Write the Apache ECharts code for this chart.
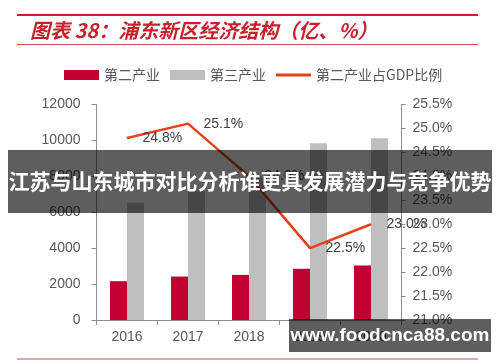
<!DOCTYPE html>
<html><head><meta charset="utf-8">
<script src="https://cdn.jsdelivr.net/npm/echarts@6/dist/echarts.min.js"></script>
<style>html,body{margin:0;padding:0;background:#fff}#c{width:500px;height:362px}</style>
</head><body><div id="c"></div>
<script>
var categories = ['2016', '2017', '2018', '2019', '2020'];
var secondary = [2160, 2420, 2510, 2860, 3030];
var tertiary = [6530, 7200, 7930, 9840, 10120];
var secondaryShare = [24.8, 25.1, 24.0, 22.5, 23.0];
var leftTicks = {min: 0, max: 12000, interval: 2000};
var rightTicks = {min: 21, max: 25.5, interval: 0.5};
var legendNames = ['第二产业', '第三产业', '第二产业占GDP比例'];

var chart = echarts.init(document.getElementById('c'));
var axisColor = '#8c8c8c';
var labelColor = '#595959';
chart.setOption({
  animation: false,
  textStyle: {fontFamily: 'Liberation Sans, Arial, sans-serif'},
  grid: {left: 96.5, right: 98.5, top: 104.5, bottom: 42},
  legend: {
    left: 59, top: 63, itemWidth: 35, itemHeight: 10, itemGap: 10,
    textStyle: {fontSize: 14, color: labelColor, fontFamily: 'Noto Sans CJK SC'},
    data: [
      {name: legendNames[0], icon: 'rect'},
      {name: legendNames[1], icon: 'rect'},
      {name: legendNames[2], icon: 'path://M0,0 L35,0 L35,3 L0,3 Z'}
    ]
  },
  xAxis: {
    type: 'category', data: categories,
    axisLine: {lineStyle: {color: axisColor, width: 1}},
    axisTick: {show: true, length: 5, lineStyle: {color: axisColor}},
    axisLabel: {fontSize: 14, color: labelColor, margin: 10}
  },
  yAxis: [
    {
      type: 'value', min: leftTicks.min, max: leftTicks.max, interval: leftTicks.interval,
      axisLine: {show: true, lineStyle: {color: axisColor}},
      axisTick: {show: true, length: 5, lineStyle: {color: axisColor}},
      splitLine: {show: false},
      axisLabel: {fontSize: 14, color: labelColor, margin: 16, formatter: function (v) { return String(v); }}
    },
    {
      type: 'value', position: 'right', min: rightTicks.min, max: rightTicks.max, interval: rightTicks.interval,
      axisLine: {show: true, lineStyle: {color: axisColor}},
      axisTick: {show: true, length: 4, lineStyle: {color: axisColor}},
      splitLine: {show: false},
      axisLabel: {fontSize: 14, color: labelColor, margin: 11, formatter: function (v) { return v.toFixed(1) + '%'; }}
    }
  ],
  series: [
    {name: legendNames[0], type: 'bar', data: secondary, barWidth: 17, barGap: '0%', itemStyle: {color: '#c00030'}},
    {name: legendNames[1], type: 'bar', data: tertiary, barWidth: 17, barGap: '0%', itemStyle: {color: '#bfbfbf'}},
    {
      name: legendNames[2], type: 'line', yAxisIndex: 1, data: secondaryShare,
      symbol: 'circle', symbolSize: 1, showSymbol: true,
      lineStyle: {color: '#e5421a', width: 2.5}, itemStyle: {color: '#e5421a'},
      label: {show: true, position: 'right', distance: 15, fontSize: 14, color: '#404040',
        formatter: function (p) { return p.value.toFixed(1) + '%'; }}
    }
  ],
  graphic: [
    {type: 'rect', shape: {x: 17, y: 14, width: 461, height: 2}, style: {fill: '#c8202c'}},
    {type: 'rect', shape: {x: 17, y: 44, width: 461, height: 1}, style: {fill: '#d0484f'}},
    {type: 'rect', shape: {x: 17, y: 358.5, width: 461, height: 1}, style: {fill: '#d0484f'}},
    {type: 'text', left: 30, top: 20, style: {text: '图表 38：浦东新区经济结构（亿、%）', fill: '#c8202c',
      fontStyle: 'italic', fontWeight: 'bold', fontSize: 20, fontFamily: 'Noto Sans CJK SC'}},
    {type: 'rect', shape: {x: 8, y: 150, width: 484, height: 63}, style: {fill: 'rgba(0,0,0,0.63)'}, z: 100},
    {type: 'text', x: 250, y: 181, z: 101, style: {text: '江苏与山东城市对比分析谁更具发展潜力与竞争优势', fill: '#fff',
      align: 'center', verticalAlign: 'middle', fontWeight: 'bold', fontSize: 21, fontFamily: 'Noto Sans CJK SC'}},
    {type: 'rect', shape: {x: 289, y: 319, width: 202, height: 33}, style: {fill: 'rgba(0,0,0,0.63)'}, z: 100},
    {type: 'text', x: 390, y: 336, z: 101, style: {text: 'www.foodcnca88.com', fill: '#fff',
      align: 'center', verticalAlign: 'middle', fontWeight: 'bold', fontSize: 19, fontFamily: 'Liberation Sans'}}
  ]
});
</script></body></html>
